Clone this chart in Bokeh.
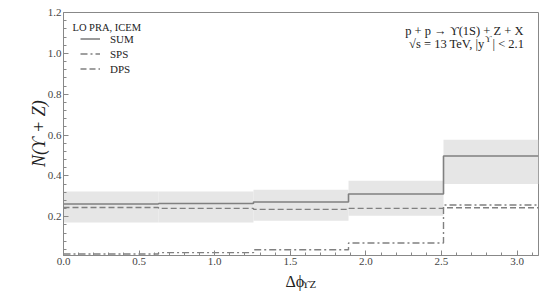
from bokeh.plotting import figure
from bokeh.models import (Label, Legend, LegendItem, FixedTicker, Range1d,
                          NumeralTickFormatter)
from bokeh.embed import file_html
from bokeh.resources import INLINE
import math

# ---- data ----
bin_edges = [0.0, 0.6283, 1.2566, 1.8850, 2.5133, 3.1416]
sum_vals = [0.262, 0.265, 0.272, 0.311, 0.497]
sps_vals = [0.017, 0.024, 0.038, 0.071, 0.257]
dps_vals = [0.245, 0.241, 0.236, 0.241, 0.244]
band_lo = [0.172, 0.172, 0.180, 0.205, 0.360]
band_hi = [0.324, 0.324, 0.332, 0.376, 0.577]
x_ticks = [0.0, 0.5, 1.0, 1.5, 2.0, 2.5, 3.0]
y_ticks = [0.2, 0.4, 0.6, 0.8, 1.0, 1.2]
series_names = ["SUM", "SPS", "DPS"]

FONT = "Liberation Serif"
LINE_C = "#808080"
AX_C = "#888888"

p = figure(width=555, height=292, x_range=Range1d(0, 3.1416), y_range=Range1d(0.01, 1.2),
           output_backend="svg", toolbar_location=None,
           min_border_left=63, min_border_right=17, min_border_top=12, min_border_bottom=37)
p.grid.visible = False
p.outline_line_color = AX_C
p.outline_line_width = 1
p.background_fill_color = "white"
p.border_fill_color = "white"

x_minor = [round(0.1 * i, 2) for i in range(32) if i % 5]
y_minor = [round(0.04 * i, 2) for i in range(31) if i % 5]
p.xaxis.ticker = FixedTicker(ticks=x_ticks, minor_ticks=x_minor)
p.yaxis.ticker = FixedTicker(ticks=y_ticks, minor_ticks=y_minor)
for ax in (p.xaxis[0], p.yaxis[0]):
    ax.formatter = NumeralTickFormatter(format="0.0")
    ax.major_tick_in = 5
    ax.major_tick_out = 0
    ax.minor_tick_in = 3
    ax.minor_tick_out = 0
    ax.axis_line_color = AX_C
    ax.major_tick_line_color = AX_C
    ax.minor_tick_line_color = AX_C
    ax.major_label_text_font = FONT
    ax.major_label_text_font_size = "11px"
    ax.major_label_text_color = "#444444"
    ax.major_label_standoff = 2

# uncertainty band
p.quad(left=bin_edges[:-1], right=bin_edges[1:], bottom=band_lo, top=band_hi,
       fill_color="#e6e6e6", line_color=None)

def stepped(vals):
    return vals + [vals[-1]]

r_dps = p.step(bin_edges, stepped(dps_vals), mode="after", line_color=LINE_C,
               line_width=1.4, line_dash="6 3")
r_sps = p.step(bin_edges, stepped(sps_vals), mode="after", line_color=LINE_C,
               line_width=1.4, line_dash="7 3 2 3")
r_sum = p.step(bin_edges, stepped(sum_vals), mode="after", line_color=LINE_C,
               line_width=1.6)

legend = Legend(items=[LegendItem(label=series_names[0], renderers=[r_sum]),
                       LegendItem(label=series_names[1], renderers=[r_sps]),
                       LegendItem(label=series_names[2], renderers=[r_dps])],
                location=(17, 180), padding=0, margin=0, spacing=2,
                glyph_width=20, glyph_height=13, label_height=13, label_standoff=10,
                label_text_font=FONT, label_text_font_size="11px", label_text_color="#222222",
                background_fill_alpha=0, border_line_alpha=0)
p.add_layout(legend)

def lab(text, x, y, size, align="left", style="normal", angle=0.0, baseline="alphabetic",
        place="center", units="screen"):
    p.add_layout(Label(x=x, y=y, x_units=units, y_units=units, text=text,
                       text_font=FONT, text_font_size=size, text_align=align,
                       text_baseline=baseline, text_font_style=style,
                       text_color="#222222", angle=angle), place)

UPS = "\u03d2"
lab("LO PRA, ICEM", 9, 228, "10.5px")
lab("p + p \u2192 " + UPS + "(1S) + Z + X", 460, 225, "12.5px", align="right")
lab("\u221as = 13 TeV, |y", 421, 212, "12.5px", align="right")
lab(UPS, 421.5, 217, "9px")
lab("| < 2.1", 429, 212, "12.5px")
# axis titles: placed in side panels (positions in data units of the frame scales)
lab("N(" + UPS + " + Z)", -0.16, 0.607, "18px", align="center", style="italic",
    angle=math.pi / 2, place="left", units="data")
lab("\u0394\u03d5", 1.468, -0.119, "16px", place="left", units="data")
lab(UPS + "Z", 1.575, -0.13, "11px", place="right", units="data")

open("out.html", "w").write(file_html(p, INLINE))
